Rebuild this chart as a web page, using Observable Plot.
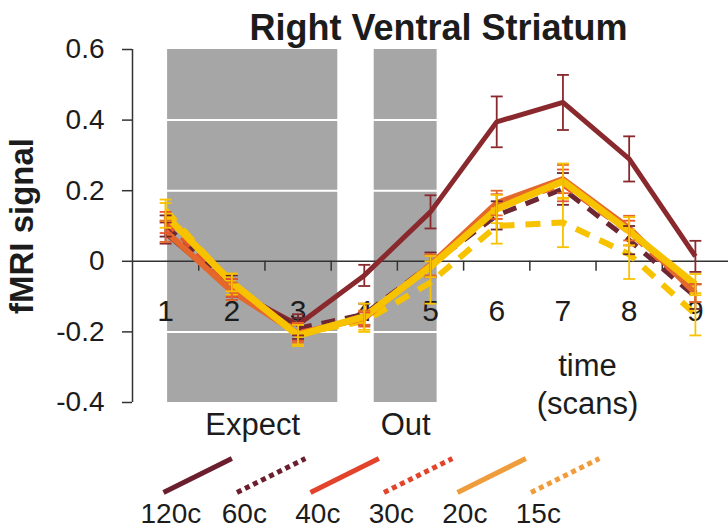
<!DOCTYPE html>
<html><head><meta charset="utf-8">
<script src="https://cdn.jsdelivr.net/npm/d3@7"></script>
<script src="https://cdn.jsdelivr.net/npm/@observablehq/plot@0.6"></script>
<style>body{margin:0;background:#fff;} #chart svg{display:block;}</style>
</head><body><div id="chart"></div>
<script>
// ---- data ----
const scans = [1, 2, 3, 4, 5, 6, 7, 8, 9];
const seriesNames = ["120c", "60c", "40c", "30c", "20c", "15c"];
const v120 = [0.08, -0.08, -0.18, -0.04, 0.14, 0.395, 0.45, 0.29, 0.014];
const e120 = [0.03, 0.03, 0.03, 0.03, 0.047, 0.072, 0.078, 0.064, 0.044];
const v60  = [0.10, -0.07, -0.19, -0.15, -0.01, 0.13, 0.205, 0.06, -0.10];
const e60  = [0.03, 0.03, 0.03, 0.03, 0.035, 0.04, 0.045, 0.04, 0.035];
const v40  = [0.085, -0.085, -0.205, -0.16, -0.01, 0.165, 0.233, 0.094, -0.09];
const e40  = [0.03, 0.025, 0.025, 0.02, 0.03, 0.035, 0.04, 0.035, 0.025];
const v30  = [0.11, -0.075, -0.20, -0.165, -0.015, 0.155, 0.215, 0.08, -0.09];
const e30  = [0.03, 0.025, 0.025, 0.02, 0.03, 0.035, 0.045, 0.035, 0.025];
const v20  = [0.13, -0.06, -0.21, -0.157, -0.015, 0.148, 0.227, 0.085, -0.066];
const e20  = [0.035, 0.025, 0.03, 0.037, 0.03, 0.04, 0.05, 0.04, 0.03];
const v15  = [0.145, -0.065, -0.205, -0.17, -0.06, 0.10, 0.11, 0.02, -0.15];
const e15  = [0.03, 0.03, 0.03, 0.03, 0.06, 0.05, 0.07, 0.07, 0.06];
const yTicks = [-0.4, -0.2, 0, 0.2, 0.4, 0.6];
const gridValues = [0.4, 0.2, -0.2];
const phaseLabels = ["Expect", "Out"];
const phaseStart = [1.03, 4.15];
const phaseEnd = [3.6, 5.1];
const titleText = "Right Ventral Striatum";
const yLabelText = "fMRI signal";
const timeText = "time\n(scans)";

// ---- styles ----
const lineStyle = {
  "120c": {stroke: "#8a292d", width: 5, dash: null},
  "60c":  {stroke: "#6c2733", width: 5, dash: "14,10"},
  "40c":  {stroke: "#e4682b", width: 6, dash: null},
  "30c":  {stroke: "#e8552c", width: 4, dash: "12,10"},
  "20c":  {stroke: "#f7c200", width: 7, dash: null},
  "15c":  {stroke: "#f7c200", width: 6, dash: "15,11"}
};
const legendStyle = {
  "120c": {stroke: "#6b1e2e", dash: null},
  "60c":  {stroke: "#6b1e2e", dash: "5,4"},
  "40c":  {stroke: "#e4432b", dash: null},
  "30c":  {stroke: "#e4432b", dash: "5,4"},
  "20c":  {stroke: "#ef9c3c", dash: null},
  "15c":  {stroke: "#ef9c3c", dash: "5,4"}
};
const drawOrder = ["120c", "60c", "15c", "30c", "40c", "20c"];

const valuesBy = {"120c": v120, "60c": v60, "40c": v40, "30c": v30, "20c": v20, "15c": v15};
const errorsBy = {"120c": e120, "60c": e60, "40c": e40, "30c": e30, "20c": e20, "15c": e15};
const rowsFor = s => scans.map((scan, i) => ({series: s, scan, v: valuesBy[s][i], e: errorsBy[s][i]}));
const phases = phaseLabels.map((label, i) => ({label, x1: phaseStart[i], x2: phaseEnd[i]}));
const boundaries = scans.slice(0, -1).map(s => s + 0.5);

const font = "'Liberation Sans', Arial, Helvetica, sans-serif";
const ink = "#1c1c1c";

const seriesMarks = [];
for (const s of drawOrder) {
  const st = lineStyle[s];
  const rows = rowsFor(s);
  seriesMarks.push(Plot.line(rows, {x: "scan", y: "v", stroke: st.stroke, strokeWidth: st.width,
    strokeDasharray: st.dash ?? undefined, strokeLinecap: "butt", strokeLinejoin: "miter"}));
}
for (const s of drawOrder) {
  const st = lineStyle[s];
  const rows = rowsFor(s);
  seriesMarks.push(
    Plot.ruleX(rows, {x: "scan", y1: d => d.v - d.e, y2: d => d.v + d.e, stroke: st.stroke, strokeWidth: 1.8}),
    Plot.link(rows, {x1: d => d.scan - 0.09, x2: d => d.scan + 0.09, y1: d => d.v + d.e, y2: d => d.v + d.e, stroke: st.stroke, strokeWidth: 1.8}),
    Plot.link(rows, {x1: d => d.scan - 0.09, x2: d => d.scan + 0.09, y1: d => d.v - d.e, y2: d => d.v - d.e, stroke: st.stroke, strokeWidth: 1.8})
  );
}

const main = Plot.plot({
  width: 728, height: 450,
  marginLeft: 132, marginRight: 0, marginTop: 49, marginBottom: 48,
  style: {fontFamily: font, color: ink, background: "#fff"},
  x: {domain: [0.5, 9.5], axis: null},
  y: {domain: [-0.4, 0.6], axis: null},
  marks: [
    Plot.rectX(phases, {x1: "x1", x2: "x2", y1: -0.4, y2: 0.6, fill: "#a6a6a6"}),
    Plot.ruleY(gridValues, {stroke: "#fff", strokeWidth: 2}),
    Plot.ruleX([0.5], {stroke: "#333", strokeWidth: 1.5}),
    Plot.axisY(yTicks, {tickSize: 10, tickPadding: 18, fontSize: 28, tickFormat: d => String(d), label: null, stroke: "#333", strokeWidth: 1.5}),
    Plot.ruleY([0], {stroke: "#333", strokeWidth: 1.5}),
    Plot.ruleX(boundaries, {y1: 0, y2: -0.028, stroke: "#333", strokeWidth: 1.5}),
    Plot.text(scans, {x: d => d, y: 0, dy: 50, fontSize: 30, fill: ink}),
    ...seriesMarks,
    Plot.text(phases, {x: d => (d.x1 + d.x2) / 2, y: -0.4, dy: 23, text: "label", fontSize: 31, fill: ink}),
    Plot.text([timeText], {x: 7.37, y: -0.345, fontSize: 31, lineHeight: 1.2, fill: ink}),
    Plot.text([titleText], {frameAnchor: "top", lineAnchor: "middle", textAnchor: "middle", dx: 8, dy: -21, fontSize: 36, fontWeight: "bold", fill: ink}),
    Plot.text([yLabelText], {frameAnchor: "left", lineAnchor: "middle", textAnchor: "middle", rotate: -90, dx: -110, fontSize: 33, fontWeight: "bold", fill: ink})
  ]
});

const legendRows = seriesNames.map((name, i) => ({name, i}));
const legendMarks = [];
for (const r of legendRows) {
  const st = legendStyle[r.name];
  legendMarks.push(Plot.link([r], {x1: d => d.i, x2: d => d.i + 0.93, y1: 0, y2: 1,
    stroke: st.stroke, strokeWidth: 5, strokeDasharray: st.dash ?? undefined, strokeLinecap: "butt"}));
}
const legend = Plot.plot({
  width: 728, height: 81,
  marginLeft: 163, marginRight: 0, marginTop: 8, marginBottom: 39,
  style: {fontFamily: font, color: ink, background: "#fff"},
  x: {domain: [0, 565 / 73.5], axis: null},
  y: {domain: [0, 1], axis: null},
  marks: [
    ...legendMarks,
    Plot.text(legendRows, {x: d => d.i + 0.1, y: 0, dy: 22, text: "name", fontSize: 28, fill: ink})
  ]
});

const root = document.getElementById("chart");
root.append(main, legend);
</script>
</body></html>
